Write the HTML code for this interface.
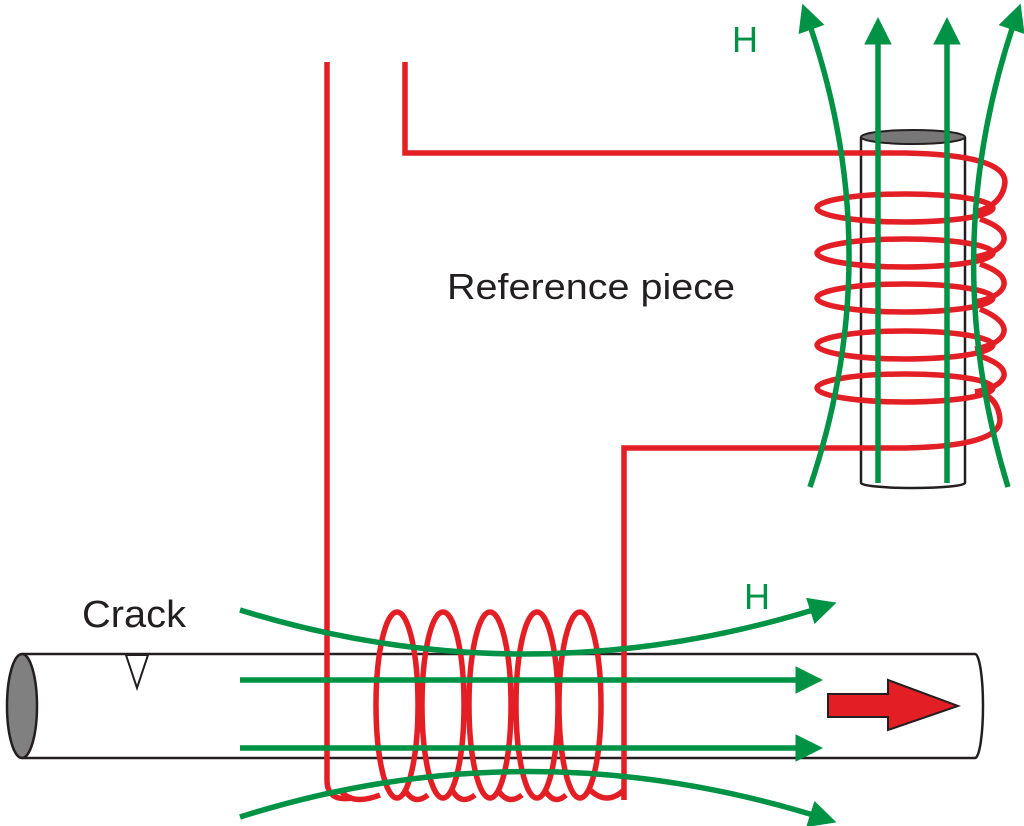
<!DOCTYPE html>
<html><head><style>html,body{margin:0;padding:0;background:#fff}svg{display:block}</style></head><body>
<svg width="1024" height="826" viewBox="0 0 1024 826" xmlns="http://www.w3.org/2000/svg" font-family="Liberation Sans, Arial, sans-serif">
<defs>
<marker id="ga" markerWidth="6" markerHeight="6" refX="3" refY="3" orient="auto" markerUnits="strokeWidth"><path d="M0,0.5 L5,3 L0,5.5 Z" fill="#009245"/></marker>
</defs>
<path d="M22,654 L975,654 A8,52 0 0 1 975,758 L22,758" fill="#fff" stroke="#231f20" stroke-width="2.5"/>
<ellipse cx="22" cy="706" rx="15" ry="52" fill="#808080" stroke="#231f20" stroke-width="2.5"/>
<path d="M126,655 L148,655 L137,688 Z" fill="#fff" stroke="#231f20" stroke-width="2"/>
<path d="M861,137 L861,483 A52,5 0 0 0 965,483 L965,137" fill="#fff" stroke="#231f20" stroke-width="2.5"/>
<ellipse cx="913" cy="137" rx="52" ry="7" fill="#777" stroke="#231f20" stroke-width="2"/>
<g fill="none" stroke="#e31e24" stroke-width="5.5">
<path d="M327,62 L327,780 Q327,802 352,798"/>
<path d="M405,62 L405,153 L905,153 Q1005,155 1005,182 Q1003,205 975,212"/>
<path d="M624,800 L624,448 L905,448 Q1000,446 1000,420 Q998,395 975,392"/>
<ellipse cx="905" cy="208" rx="88" ry="14"/>
<ellipse cx="905" cy="253" rx="88" ry="14"/>
<ellipse cx="905" cy="298" rx="88" ry="14"/>
<ellipse cx="905" cy="345" rx="88" ry="14"/>
<ellipse cx="905" cy="388" rx="88" ry="14"/>
<path d="M980,219 Q1006,228 1004,240 Q1001,252 975,257"/>
<path d="M980,264 Q1006,273 1004,285 Q1001,297 975,302"/>
<path d="M980,309 Q1006,320 1004,332 Q1001,344 975,349"/>
<path d="M980,356 Q1006,365 1004,376 Q1001,387 975,392"/>
<ellipse cx="397" cy="705" rx="21" ry="93"/>
<ellipse cx="443" cy="705" rx="21" ry="93"/>
<ellipse cx="490" cy="705" rx="21" ry="93"/>
<ellipse cx="537" cy="705" rx="21" ry="93"/>
<ellipse cx="580" cy="705" rx="21" ry="93"/>
<path d="M340,790 Q352,806 380,795"/>
<path d="M405,790 Q414,806 428,795"/>
<path d="M452,790 Q461,806 475,795"/>
<path d="M498,790 Q508,806 522,795"/>
<path d="M545,790 Q554,806 566,795"/>
<path d="M590,790 Q607,806 624,790"/>
</g>
<g fill="none" stroke="#009245" stroke-width="5.5" marker-end="url(#ga)">
<path d="M240,610 Q530,700 826,606"/>
<path d="M240,680 L812,680"/>
<path d="M240,748 L812,748"/>
<path d="M240,817 Q530,725 826,819"/>
<path d="M878,483 L878,28"/>
<path d="M947,483 L947,28"/>
<path d="M810,487 Q890,250 806,14"/>
<path d="M1008,487 Q935,250 1017,14"/>
</g>
<path d="M828,694 L888,694 L888,680 L958,706 L888,730 L888,717 L828,717 Z" fill="#e31e24" stroke="#231f20" stroke-width="2"/>
<text x="447" y="299" font-size="36" textLength="288" lengthAdjust="spacingAndGlyphs" fill="#231f20">Reference piece</text>
<text x="732" y="52" font-size="36" fill="#009245">H</text>
<text x="744" y="609" font-size="36" fill="#009245">H</text>
<text x="82" y="627" font-size="38" textLength="104" lengthAdjust="spacingAndGlyphs" fill="#231f20">Crack</text>
</svg>
</body></html>
